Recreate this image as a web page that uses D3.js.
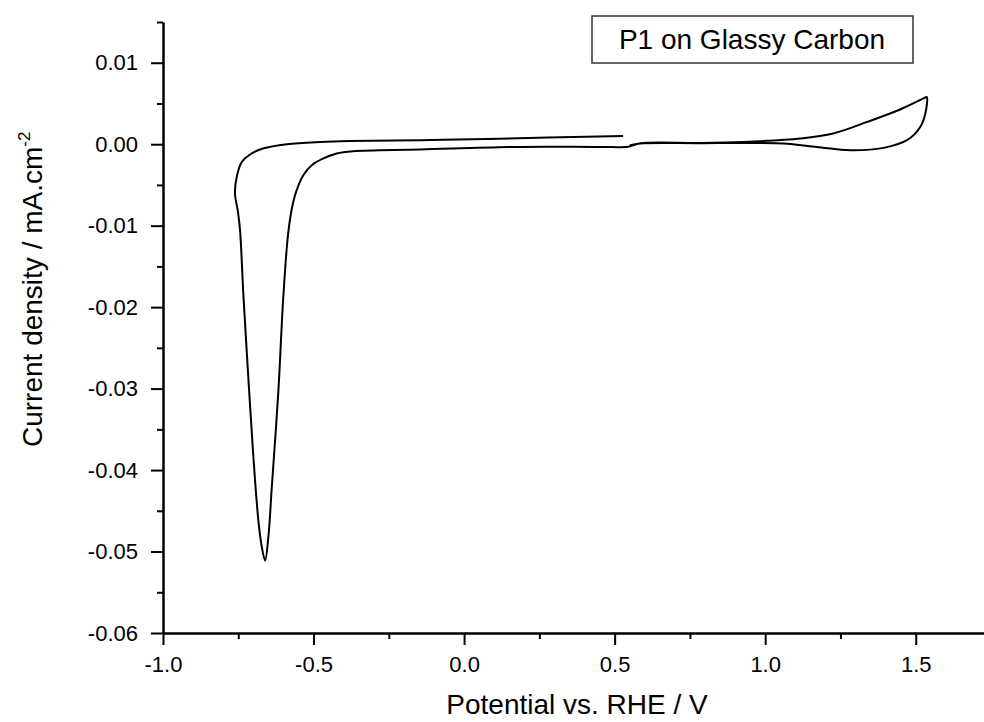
<!DOCTYPE html>
<html>
<head>
<meta charset="utf-8">
<script src="https://cdn.jsdelivr.net/npm/d3@7"></script>
<style>
  body { margin: 0; background: #fff; }
  svg { display: block; font-family: "Liberation Sans", Arial, sans-serif; }
  .axis path, .axis line { stroke: #000; stroke-width: 2; }
  .axis text { fill: #000; font-size: 22px; }
</style>
</head>
<body>
<div id="chart"></div>
<script>
// cyclic voltammogram (V vs RHE, mA.cm-2)
const potential = [
  0.528, 0.076, -0.146, -0.379, -0.478, -0.588, -0.668, -0.711, -0.738, -0.754,
  -0.761, -0.751, -0.744, -0.733, -0.717, -0.700, -0.683, -0.672, -0.661,
  -0.650, -0.639, -0.617, -0.601, -0.585, -0.572, -0.558, -0.534, -0.506, -0.467,
  -0.423, -0.369, -0.146, 0.186, 0.452, 0.545, 0.585, 0.784, 0.927, 1.116,
  1.226, 1.339, 1.448, 1.532, 1.537,
  1.532, 1.515, 1.471, 1.393, 1.282, 1.172, 1.060, 0.927, 0.784, 0.585, 0.551
]
const current = [
  0.00102, 0.00065, 0.00049, 0.00040, 0.00028, 0.0, -0.00053, -0.00126, -0.00217, -0.0038,
  -0.0060, -0.0083, -0.0106, -0.0185, -0.0284, -0.0383, -0.0463, -0.0494, -0.0511,
  -0.0482, -0.0423, -0.0304, -0.0191, -0.0112, -0.0079, -0.00585, -0.0038, -0.00258, -0.00175,
  -0.00114, -0.00086, -0.00065, -0.00033, -0.00033, -0.00030, 0.00012, 0.00015, 0.00028, 0.0007,
  0.00131, 0.00274, 0.00426, 0.00573, 0.0058,
  0.00377, 0.00212, 0.00049, -0.00045, -0.00074, -0.00033, 0.00009, 0.00016, 0.00012, 0.00009, -0.00012
]

const xTicks = [-1.0, -0.5, 0.0, 0.5, 1.0, 1.5]
const xMinor = [-0.75, -0.25, 0.25, 0.75, 1.25, 1.75]
const yTicks = [0.01, 0.00, -0.01, -0.02, -0.03, -0.04, -0.05, -0.06]
const yMinor = [0.015, 0.005, -0.005, -0.015, -0.025, -0.035, -0.045, -0.055]

const LABEL = "P1 on Glassy Carbon"
const X_TITLE = "Potential vs. RHE / V"
const Y_TITLE = "Current density / mA.cm"

const WIDTH = 984, HEIGHT = 722
const MARGIN = { TOP: 22, LEFT: 163, RIGHT: -7, BOTTOM: 89 }

const svg = d3.select("#chart")
  .append("svg")
    .attr("width", WIDTH)
    .attr("height", HEIGHT)

const x = d3.scaleLinear()
  .domain([-1.0, 1.75])
  .range([MARGIN.LEFT, WIDTH - MARGIN.RIGHT])

const y = d3.scaleLinear()
  .domain([-0.06, 0.015])
  .range([HEIGHT - MARGIN.BOTTOM, MARGIN.TOP])

const fmtX = d => d3.format(".1f")(d).replace("−", "-")
const fmtY = d => d3.format(".2f")(d).replace("−", "-")

// minor ticks first, then the main axes on top
svg.append("g")
  .attr("class", "axis")
  .attr("transform", `translate(0, ${y.range()[0]})`)
  .call(d3.axisBottom(x).tickValues(xMinor).tickSize(6).tickSizeOuter(0).tickFormat(""))

svg.append("g")
  .attr("class", "axis")
  .attr("transform", `translate(${x.range()[0]}, 0)`)
  .call(d3.axisLeft(y).tickValues(yMinor).tickSize(6).tickSizeOuter(0).tickFormat(""))

svg.append("g")
  .attr("class", "axis")
  .attr("transform", `translate(0, ${y.range()[0]})`)
  .call(d3.axisBottom(x).tickValues(xTicks).tickSize(12).tickSizeOuter(0).tickPadding(11).tickFormat(fmtX))

svg.append("g")
  .attr("class", "axis")
  .attr("transform", `translate(${x.range()[0]}, 0)`)
  .call(d3.axisLeft(y).tickValues(yTicks).tickSize(12).tickSizeOuter(0).tickPadding(13).tickFormat(fmtY))

// the trace
const line = d3.line()
  .x(i => x(potential[i]))
  .y(i => y(current[i]))
  .curve(d3.curveCatmullRom.alpha(0.5))

svg.append("path")
  .datum(d3.range(potential.length))
  .attr("d", line)
  .attr("fill", "none")
  .attr("stroke", "#000")
  .attr("stroke-width", 2)
  .attr("stroke-linejoin", "round")

// axis titles
svg.append("text")
  .attr("x", (x.range()[0] + x.range()[1]) / 2)
  .attr("y", 714)
  .attr("text-anchor", "middle")
  .attr("font-size", 28)
  .text(X_TITLE)

const yt = svg.append("text")
  .attr("transform", "translate(42, 447) rotate(-90)")
  .attr("font-size", 28)
yt.append("tspan").text(Y_TITLE)
yt.append("tspan").attr("font-size", 17).attr("dy", -12).text("-2")

// label box
const box = svg.append("g")
box.append("rect")
  .attr("x", 592).attr("y", 16)
  .attr("width", 321).attr("height", 47)
  .attr("fill", "#fff")
  .attr("stroke", "#333")
  .attr("stroke-width", 1.5)
box.append("text")
  .attr("x", 752).attr("y", 49)
  .attr("text-anchor", "middle")
  .attr("font-size", 28)
  .text(LABEL)
</script>
</body>
</html>
